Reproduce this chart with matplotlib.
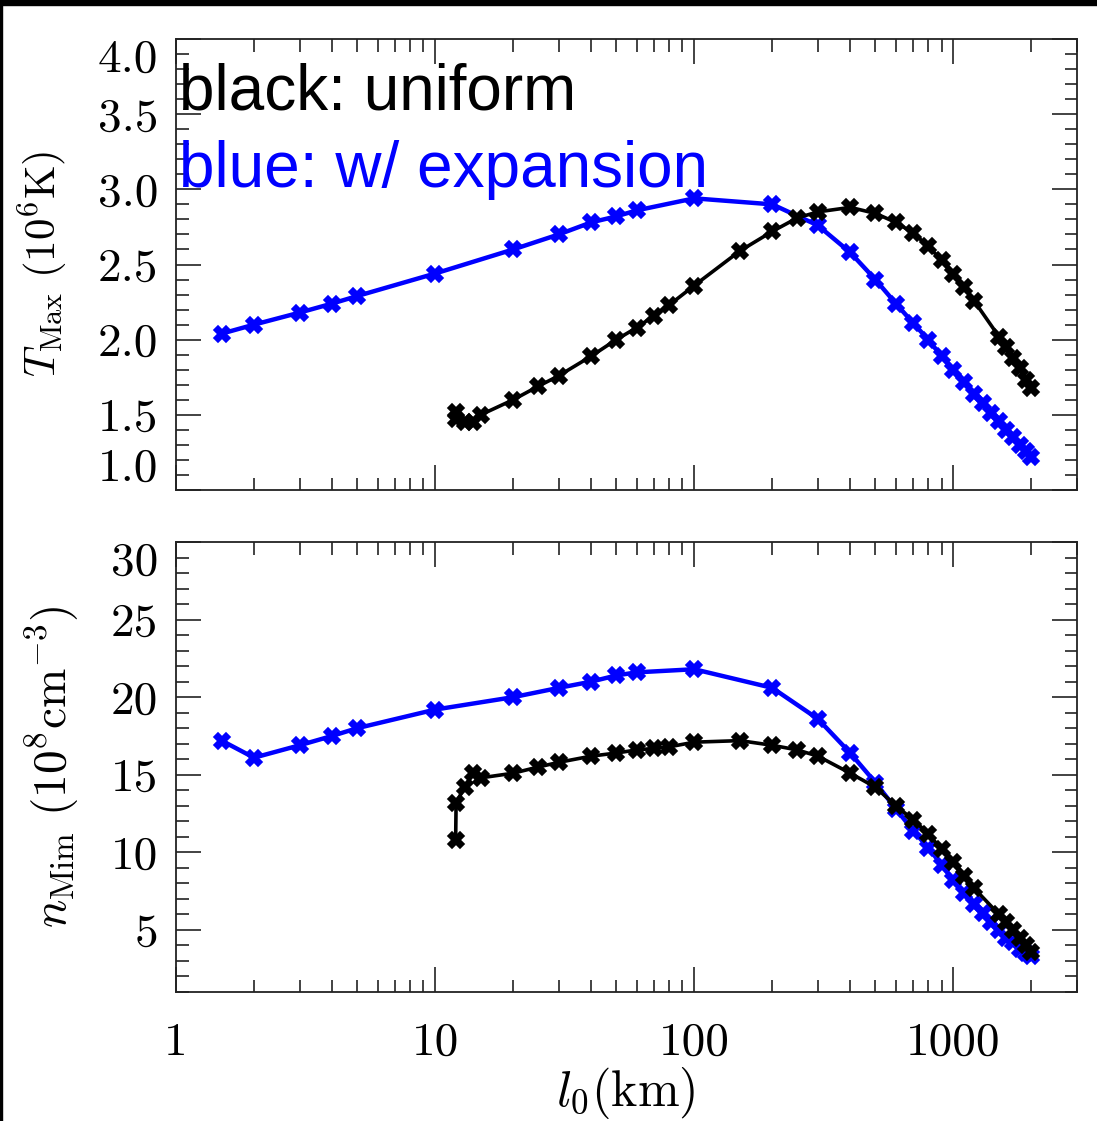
import numpy as np
import matplotlib
matplotlib.use("Agg")
import matplotlib.pyplot as plt
from matplotlib.ticker import FixedLocator, NullFormatter, LogLocator, MultipleLocator
from matplotlib.patches import Rectangle

plt.rcParams['mathtext.fontset'] = 'cm'
plt.rcParams['axes.unicode_minus'] = False

# loop lengths (km)
l0_uniform = [12, 12.05, 13, 14, 15, 20, 25, 30, 40, 50, 60, 70, 80, 100, 150, 200, 250, 300,
              400, 500, 600, 700, 800, 900, 1000, 1100, 1200, 1500, 1600, 1700, 1800, 1900, 2000]
l0_expansion = [1.5, 2, 3, 4, 5, 10, 20, 30, 40, 50, 60, 100, 200, 300, 400, 500, 600, 700,
                800, 900, 1000, 1100, 1200, 1300, 1400, 1500, 1600, 1700, 1800, 1900, 2000]

# max temperature (10^6 K)
tmax_uniform = [1.52, 1.47, 1.45, 1.45, 1.50, 1.60, 1.69, 1.76, 1.89, 2.00, 2.08, 2.16, 2.23, 2.36,
                2.59, 2.72, 2.81, 2.85, 2.88, 2.84, 2.78, 2.71, 2.62, 2.53, 2.44, 2.35, 2.26,
                2.02, 1.95, 1.88, 1.81, 1.73, 1.68]
tmax_expansion = [2.04, 2.10, 2.18, 2.24, 2.29, 2.44, 2.60, 2.70, 2.78, 2.82, 2.86, 2.94, 2.90,
                  2.76, 2.58, 2.40, 2.24, 2.11, 2.00, 1.89, 1.80, 1.72, 1.64, 1.58, 1.51, 1.46,
                  1.40, 1.35, 1.30, 1.26, 1.22]

# density (10^8 cm^-3)
n_uniform = [10.8, 13.2, 14.2, 15.1, 14.8, 15.1, 15.5, 15.8, 16.2, 16.4, 16.6, 16.7, 16.8, 17.1,
             17.2, 16.9, 16.6, 16.2, 15.1, 14.2, 13.0, 12.1, 11.2, 10.2, 9.4, 8.5, 7.7,
             6.0, 5.5, 5.0, 4.5, 4.0, 3.6]
n_expansion = [17.2, 16.1, 16.9, 17.5, 18.0, 19.2, 20.0, 20.6, 21.0, 21.4, 21.6, 21.8, 20.6,
               18.6, 16.4, 14.5, 12.8, 11.4, 10.3, 9.2, 8.2, 7.4, 6.7, 6.1, 5.5, 5.0,
               4.5, 4.2, 3.8, 3.5, 3.3]

xticks = [1, 10, 100, 1000]
xticklabels = ['1', '10', '100', '1000']
top_yticks = [1.0, 1.5, 2.0, 2.5, 3.0, 3.5, 4.0]
bot_yticks = [5, 10, 15, 20, 25, 30]

W, H = 1097, 1121
fig = plt.figure(figsize=(W / 100, H / 100), dpi=100)
ax1 = fig.add_axes([176 / W, 1 - 490 / H, 901 / W, 451 / H])
ax2 = fig.add_axes([176 / W, 1 - 992 / H, 901 / W, 450 / H])

num_font = {'family': 'cmr10', 'size': 34}


def style(ax, yticks, ymin, ymax, minor, show_x):
    ax.set_xscale('log')
    ax.set_xlim(1, 3000)
    ax.set_ylim(ymin, ymax)
    ax.xaxis.set_major_locator(FixedLocator(xticks))
    ax.xaxis.set_minor_locator(LogLocator(base=10, subs=np.arange(2, 10)))
    ax.xaxis.set_minor_formatter(NullFormatter())
    ax.yaxis.set_major_locator(FixedLocator(yticks))
    ax.yaxis.set_minor_locator(MultipleLocator(minor))
    ax.tick_params(which='both', direction='in', top=True, right=True, color='#222222', width=1.2)
    ax.tick_params(which='major', length=18)
    ax.tick_params(which='minor', length=9)
    ax.tick_params(axis='y', which='major', pad=13)
    ax.tick_params(axis='x', which='major', pad=22)
    for s in ax.spines.values():
        s.set_linewidth(1.3)
        s.set_color('#222222')
    if show_x:
        ax.set_xticklabels(xticklabels, fontdict=num_font)
    else:
        ax.set_xticklabels([])
    labs = ax.set_yticklabels([(f'{t:.1f}' if isinstance(t, float) else str(t)) for t in yticks],
                              fontdict=num_font)
    return labs


labs1 = style(ax1, top_yticks, 1.0, 4.0, 0.1, False)
labs1[0].set_va('bottom')
labs1[-1].set_va('top')
labs2 = style(ax2, bot_yticks, 1, 30, 1, True)
labs2[-1].set_va('top')

mk = dict(marker='X', markersize=11, markeredgewidth=1.2)
ax1.plot(l0_expansion, tmax_expansion, color='#0000ff', lw=3.2, **mk)
ax1.plot(l0_uniform, tmax_uniform, color='black', lw=2.6, **mk)
ax2.plot(l0_expansion, n_expansion, color='#0000ff', lw=3.2, **mk)
ax2.plot(l0_uniform, n_uniform, color='black', lw=2.6, **mk)

fig.text(179 / W, 1 - 110 / H, 'black: uniform', color='black', fontsize=46,
         family='Liberation Sans', va='baseline', ha='left')
fig.text(179 / W, 1 - 187 / H, 'blue: w/ expansion', color='#0000ff', fontsize=46,
         family='Liberation Sans', va='baseline', ha='left')

fig.text(43 / W, 1 - 264 / H, r'$T_{\rm Max}\ (10^6{\rm K})$', fontsize=31,
         rotation=90, ha='center', va='center')
fig.text(52 / W, 1 - 767 / H, r'$n_{\rm Mim}\ (10^8{\rm cm}^{-3})$', fontsize=34,
         rotation=90, ha='center', va='center')
fig.text(626 / W, 1 - 1093 / H, r'$l_0({\rm km})$', fontsize=36, ha='center', va='center')

# black frame edges of the original screenshot
fig.patches.append(Rectangle((0, 1 - 5 / H), 1, 5 / H, transform=fig.transFigure,
                             color='black', zorder=10))
fig.patches.append(Rectangle((0, 0), 2 / W, 1, transform=fig.transFigure,
                             color='black', zorder=10))

fig.savefig('out.png', dpi=100)
